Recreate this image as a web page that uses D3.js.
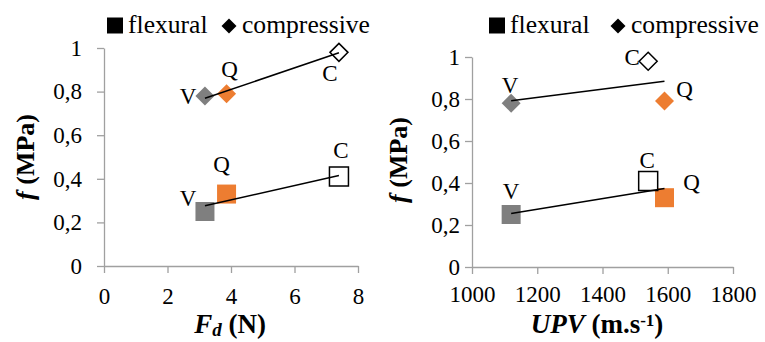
<!DOCTYPE html>
<html>
<head>
<meta charset="utf-8">
<script src="https://cdn.jsdelivr.net/npm/d3@7"></script>
<style>
  body { margin: 0; background: #fff; }
  svg { display: block; }
</style>
</head>
<body>
<svg id="chart" width="765" height="342"></svg>
<script>
// samples, in order V, Q, C
const samples = ["V", "Q", "C"];
const fd = [3.18, 3.86, 7.4];          // F_d (N)
const upv = [1120, 1590, 1540];        // UPV (m/s)
const flexural = [0.25, 0.33, 0.41];   // f (MPa)
const compressive = [0.78, 0.79, 0.98];
const sampleColors = ["#7f7f7f", "#ed7d31", "#ffffff"];

const fdTicks = [0, 2, 4, 6, 8];
const upvTicks = [1000, 1200, 1400, 1600, 1800];
const fTicks = [0, 0.2, 0.4, 0.6, 0.8, 1];

const serif = '"Liberation Serif", "Times New Roman", serif'
const svg = d3.select("#chart")

// panel layout (pixel boxes) and label offsets
const panels = [
  {
    xv: fd, xDomain: [0, 8], xTicks: fdTicks,
    x0: 104, x1: 358, y0: 266, y1: 48,
    yPad: 15, xPad: 15,
    legendX: 107, legendGap: 0,
    yTitleX: 34, yTitleY: 157, xTitleX: 230,
    xTitle: [["F", "bi"], ["d", "sub"], [" (N)", "b"]],
    flexLab: [[-17, -6], [-5, -22], [2, -19]],
    compLab: [[-17, 8], [3, -17], [-9, 29]]
  },
  {
    xv: upv, xDomain: [1000, 1800], xTicks: upvTicks,
    x0: 472, x1: 733, y0: 267, y1: 57,
    yPad: 5, xPad: 12,
    legendX: 489, legendGap: 7,
    yTitleX: 407, yTitleY: 160, xTitleX: 597,
    xTitle: [["UPV", "bi"], [" (m.s", "b"], ["-1", "sup"], [")", "b"]],
    flexLab: [[0, -16], [27, -8], [-1, -13]],
    compLab: [[-1, -10], [20, -4], [-16, 4]]
  }
];

function fitLine(xs, ys) {
  const mx = d3.mean(xs), my = d3.mean(ys)
  let sxy = 0, sxx = 0
  xs.forEach((x, i) => { sxy += (x - mx) * (ys[i] - my); sxx += (x - mx) * (x - mx) })
  const b = sxy / sxx
  const a = my - b * mx
  const lo = d3.min(xs), hi = d3.max(xs)
  return [[lo, a + b * lo], [hi, a + b * hi]]
}

panels.forEach(p => {
  const x = d3.scaleLinear().domain(p.xDomain).range([p.x0, p.x1])
  const y = d3.scaleLinear().domain([0, 1]).range([p.y0, p.y1])
  const g = svg.append("g")

  // axes
  const ya = g.append("g")
    .attr("transform", "translate(" + p.x0 + ",0)")
    .call(d3.axisLeft(y).tickValues(fTicks).tickSize(7).tickSizeOuter(0).tickPadding(p.yPad)
      .tickFormat(d => String(d).replace(".", ",")))
  const xa = g.append("g")
    .attr("transform", "translate(0," + p.y0 + ")")
    .call(d3.axisBottom(x).tickValues(p.xTicks).tickSize(7).tickSizeOuter(0).tickPadding(p.xPad)
      .tickFormat(d3.format("d")))
  ;[ya, xa].forEach(a => {
    a.selectAll("path, line").attr("stroke", "#a0a0a0").attr("stroke-width", 1.3)
    a.selectAll("text")
      .style("font-family", serif)
      .style("font-size", "23px")
      .attr("fill", "#000")
  })

  const square = (s) => d3.symbol().type(d3.symbolSquare).size(s)()
  const diamond = (w) => "M0," + (-w / 2) + "L" + (w / 2) + ",0L0," + (w / 2) + "L" + (-w / 2) + ",0Z"

  // flexural squares
  g.selectAll(".flex")
    .data(samples)
    .enter().append("path")
    .attr("d", square(19 * 19))
    .attr("transform", (d, i) => "translate(" + x(p.xv[i]) + "," + y(flexural[i]) + ")")
    .attr("fill", (d, i) => sampleColors[i])
    .attr("stroke", (d, i) => i == 2 ? "#000" : "none")
    .attr("stroke-width", 1.5)

  // compressive diamonds
  g.selectAll(".comp")
    .data(samples)
    .enter().append("path")
    .attr("d", (d, i) => diamond(i == 2 ? 18 : 19))
    .attr("transform", (d, i) => "translate(" + x(p.xv[i]) + "," + y(compressive[i]) + ")")
    .attr("fill", (d, i) => sampleColors[i])
    .attr("stroke", (d, i) => i == 2 ? "#000" : "none")
    .attr("stroke-width", 1.5)

  // linear trend lines
  const line = d3.line().x(d => x(d[0])).y(d => y(d[1]))
  ;[flexural, compressive].forEach(vals => {
    g.append("path")
      .attr("d", line(fitLine(p.xv, vals)))
      .attr("stroke", "#000")
      .attr("stroke-width", 1.5)
      .attr("fill", "none")
  })

  // point labels
  const labels = (vals, offs) => {
    g.selectAll(null)
      .data(samples)
      .enter().append("text")
      .attr("x", (d, i) => x(p.xv[i]) + offs[i][0])
      .attr("y", (d, i) => y(vals[i]) + offs[i][1])
      .attr("text-anchor", "middle")
      .style("font-family", serif)
      .style("font-size", "23px")
      .text(d => d)
  }
  labels(flexural, p.flexLab)
  labels(compressive, p.compLab)

  // legend
  const lx = p.legendX
  g.append("path").attr("d", square(16 * 16)).attr("transform", "translate(" + (lx + 8) + ",25.5)")
  g.append("text").attr("x", lx + 21).attr("y", 33)
    .style("font-family", serif).style("font-size", "25.6px").text("flexural")
  g.append("path").attr("d", diamond(15)).attr("transform", "translate(" + (lx + 122 + p.legendGap) + ",26)")
  g.append("text").attr("x", lx + 135 + p.legendGap).attr("y", 33)
    .style("font-family", serif).style("font-size", "25.6px").text("compressive")

  // axis titles
  const xt = g.append("text")
    .attr("x", p.xTitleX).attr("y", 333)
    .attr("text-anchor", "middle")
    .style("font-family", serif)
    .style("font-size", "27px")
    .style("font-weight", "bold")
  p.xTitle.forEach(t => {
    const s = xt.append("tspan").text(t[0])
    if (t[1] == "bi" || t[1] == "sub") s.style("font-style", "italic")
    if (t[1] == "sub") s.attr("baseline-shift", "-18%").style("font-size", "19px")
    if (t[1] == "sup") s.attr("baseline-shift", "40%").style("font-size", "17px")
  })

  const yt = g.append("text")
    .attr("transform", "translate(" + p.yTitleX + "," + p.yTitleY + ") rotate(-90)")
    .attr("text-anchor", "middle")
    .style("font-family", serif)
    .style("font-size", "26px")
    .style("font-weight", "bold")
  yt.append("tspan").style("font-style", "italic").text("f")
  yt.append("tspan").text(" (MPa)")
})
</script>
</body>
</html>
